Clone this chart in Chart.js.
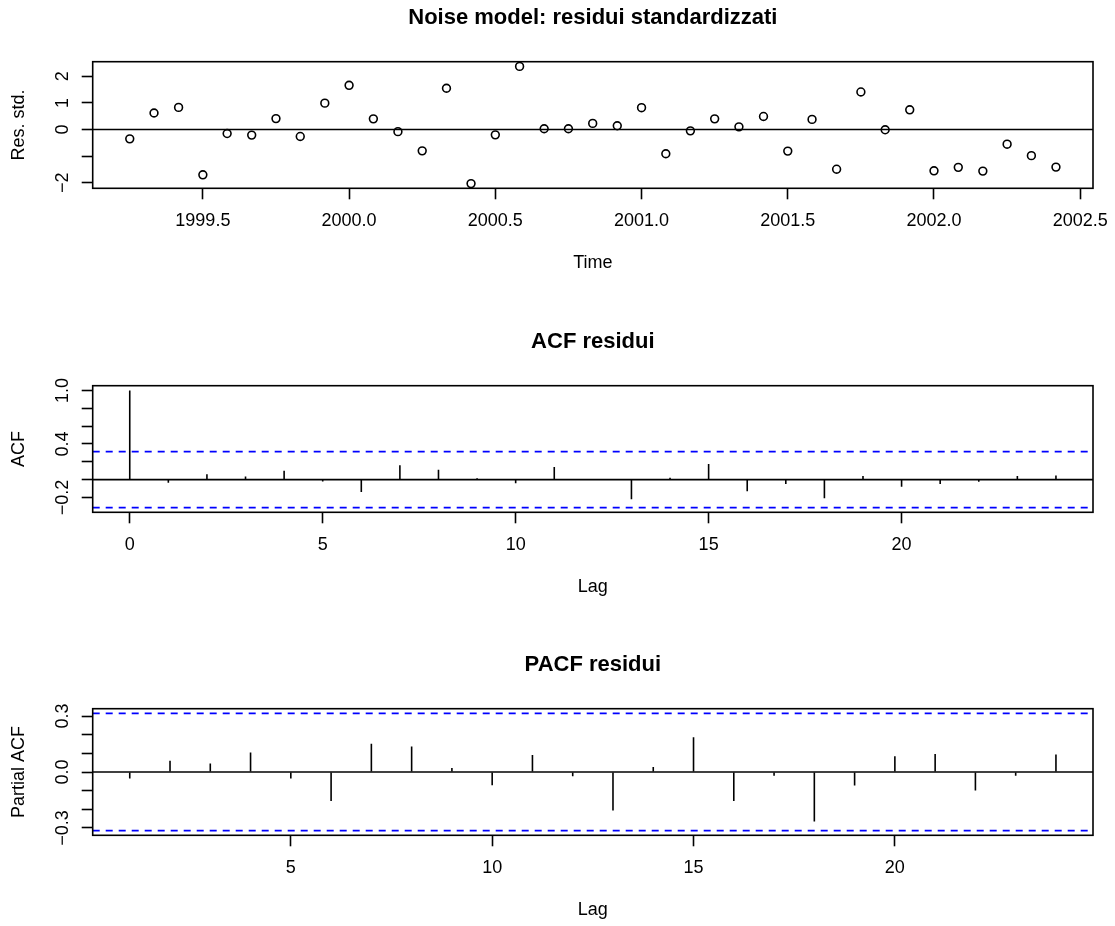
<!DOCTYPE html>
<html>
<head>
<meta charset="utf-8">
<title>Noise model: residui standardizzati</title>
<script src="https://cdn.jsdelivr.net/npm/chart.js@4.4.1/dist/chart.umd.min.js"></script>
<style>
    body { margin: 0; background: #ffffff; }
    #plots { position: relative; width: 1115px; height: 926px; }
    #plots canvas { position: absolute; left: 0; }
</style>
</head>
<body>
<div id="plots">
    <canvas id="residualChart" width="1115" height="324" style="top:0px"></canvas>
    <canvas id="acfChart" width="1115" height="324" style="top:324px"></canvas>
    <canvas id="pacfChart" width="1115" height="279" style="top:647px"></canvas>
</div>
<script>
// standardized residuals, monthly from 1999 (Apr) to 2002 (Jun)
const residualTimes = [
    1999.250, 1999.333, 1999.417, 1999.500, 1999.583, 1999.667, 1999.750, 1999.833, 1999.917,
    2000.000, 2000.083, 2000.167, 2000.250, 2000.333, 2000.417, 2000.500, 2000.583, 2000.667, 2000.750, 2000.833, 2000.917,
    2001.000, 2001.083, 2001.167, 2001.250, 2001.333, 2001.417, 2001.500, 2001.583, 2001.667, 2001.750, 2001.833, 2001.917,
    2002.000, 2002.083, 2002.167, 2002.250, 2002.333, 2002.417
];
const residualValues = [
    -0.35, 0.62, 0.83, -1.70, -0.15, -0.21, 0.41, -0.26, 0.99,
    1.66, 0.40, -0.08, -0.80, 1.55, -2.03, -0.20, 2.37, 0.03, 0.03, 0.23, 0.14,
    0.82, -0.91, -0.05, 0.40, 0.10, 0.49, -0.81, 0.38, -1.49, 1.41, -0.01, 0.74,
    -1.55, -1.42, -1.56, -0.55, -0.98, -1.41
];
const timeTicks = [1999.5, 2000.0, 2000.5, 2001.0, 2001.5, 2002.0, 2002.5];
const timeTickLabels = ['1999.5', '2000.0', '2000.5', '2001.0', '2001.5', '2002.0', '2002.5'];
const residualTicks = [-2, -1, 0, 1, 2];
const residualTickLabels = ['\u22122', '', '0', '1', '2'];

const acfLags = [0, 1, 2, 3, 4, 5, 6, 7, 8, 9, 10, 11, 12, 13, 14, 15, 16, 17, 18, 19, 20, 21, 22, 23, 24];
const acfValues = [
    1.0, -0.035, 0.06, 0.035, 0.10, -0.02, -0.14, 0.16, 0.11, 0.015, -0.04, 0.14, -0.005,
    -0.22, 0.02, 0.175, -0.13, -0.05, -0.21, 0.04, -0.08, -0.05, -0.025, 0.04, 0.045
];
const acfTicks = [-0.2, 0.0, 0.2, 0.4, 0.6, 0.8, 1.0];
const acfTickLabels = ['\u22120.2', '', '', '0.4', '', '', '1.0'];
const acfLagTicks = [0, 5, 10, 15, 20];

const pacfLags = [1, 2, 3, 4, 5, 6, 7, 8, 9, 10, 11, 12, 13, 14, 15, 16, 17, 18, 19, 20, 21, 22, 23, 24];
const pacfValues = [
    -0.035, 0.06, 0.045, 0.105, -0.035, -0.155, 0.152, 0.136, 0.021, -0.071, 0.091, -0.023,
    -0.206, 0.027, 0.186, -0.155, -0.02, -0.265, -0.072, 0.085, 0.097, -0.099, -0.02, 0.094
];
const pacfTicks = [-0.3, -0.2, -0.1, 0.0, 0.1, 0.2, 0.3];
const pacfTickLabels = ['\u22120.3', '', '', '0.0', '', '', '0.3'];
const pacfLagTicks = [5, 10, 15, 20];

// 95% band drawn by acf()/pacf()
const confidenceBound = 0.314;

const FONT = "'Liberation Sans', Arial, Helvetica, sans-serif";
const LINE = 1.6;

function measureText(text, size) {
    const ctx = document.createElement('canvas').getContext('2d');
    ctx.font = size + 'px ' + FONT;
    return ctx.measureText(text).width;
}

// R style axis range: data range widened by 4%
function paddedRange(values) {
    const lo = Math.min(...values);
    const hi = Math.max(...values);
    const pad = (hi - lo) * 0.04;
    return [lo - pad, hi + pad];
}

const framePlugin = {
    id: 'frame',
    afterDatasetsDraw(chart, args, opts) {
        const ctx = chart.ctx;
        const area = chart.chartArea;
        const y = chart.scales.y;
        ctx.save();
        ctx.lineWidth = LINE;
        (opts.lines || []).forEach(line => {
            const py = y.getPixelForValue(line.value);
            ctx.beginPath();
            ctx.setLineDash(line.dash || []);
            ctx.strokeStyle = line.color;
            ctx.moveTo(area.left, py);
            ctx.lineTo(area.right, py);
            ctx.stroke();
        });
        ctx.setLineDash([]);
        ctx.strokeStyle = '#000000';
        ctx.strokeRect(area.left, area.top, area.right - area.left, area.bottom - area.top);
        ctx.restore();
    }
};

function xAxis(range, ticks, labels, title) {
    return {
        type: 'linear',
        min: range[0],
        max: range[1],
        offset: false,
        afterBuildTicks: scale => { scale.ticks = ticks.map(v => ({ value: v })); },
        afterFit: scale => {
            scale.height = 86;
            scale.paddingLeft = 0;
            scale.paddingRight = 0;
        },
        ticks: {
            autoSkip: false,
            minRotation: 0,
            maxRotation: 0,
            padding: 11.4,
            color: '#000000',
            font: { family: FONT, size: 18 },
            callback: (value, index) => labels[index]
        },
        grid: { drawOnChartArea: false, drawTicks: true, tickLength: 11, tickWidth: LINE, tickColor: '#000000', offset: false },
        border: { display: false },
        title: { display: true, text: title, color: '#000000', font: { family: FONT, size: 18 }, padding: { top: 0, bottom: 0 } }
    };
}

function yAxis(range, ticks, labels, title) {
    const widest = Math.max(...labels.map(t => measureText(t, 18)));
    return {
        type: 'linear',
        min: range[0],
        max: range[1],
        afterBuildTicks: scale => { scale.ticks = ticks.map(v => ({ value: v })); },
        afterFit: scale => {
            scale.width = 92.7;
            scale.paddingTop = 0;
            scale.paddingBottom = 0;
        },
        ticks: {
            autoSkip: false,
            minRotation: 90,
            maxRotation: 90,
            crossAlign: 'center',
            padding: 18.7 - widest / 2,
            color: '#000000',
            font: { family: FONT, size: 18 },
            callback: (value, index) => labels[index]
        },
        grid: { drawOnChartArea: false, drawTicks: true, tickLength: 11, tickWidth: LINE, tickColor: '#000000' },
        border: { display: false },
        title: { display: true, text: title, color: '#000000', font: { family: FONT, size: 18 }, padding: { top: 8.7, bottom: 0 } }
    };
}

function baseOptions(title, bottomPad, lines, scales) {
    return {
        responsive: false,
        animation: false,
        devicePixelRatio: 1,
        layout: { padding: { left: 0, right: 22, top: 0, bottom: bottomPad } },
        plugins: {
            legend: { display: false },
            tooltip: { enabled: false },
            title: {
                display: true,
                text: title,
                fullSize: false,
                color: '#000000',
                font: { family: FONT, size: 22, weight: 'bold' },
                padding: { top: 4.8, bottom: 30.5 }
            },
            frame: { lines: lines }
        },
        scales: scales
    };
}

function drawResidualChart() {
    const xRange = paddedRange(residualTimes);
    const yRange = paddedRange(residualValues);
    new Chart(document.getElementById('residualChart'), {
        type: 'scatter',
        data: {
            datasets: [{
                data: residualTimes.map((t, i) => ({ x: t, y: residualValues[i] })),
                pointStyle: 'circle',
                pointRadius: 3.9,
                pointBorderWidth: LINE,
                borderColor: '#000000',
                backgroundColor: 'rgba(0,0,0,0)'
            }]
        },
        options: baseOptions('Noise model: residui standardizzati', 49.7,
            [{ value: 0, color: '#000000' }],
            {
                x: xAxis(xRange, timeTicks, timeTickLabels, 'Time'),
                y: yAxis(yRange, residualTicks, residualTickLabels, 'Res. std.')
            }),
        plugins: [framePlugin]
    });
}

function drawSpikeChart(canvasId, title, lags, values, yValues, yTicks, yLabels, xTicks, yTitle, bottomPad) {
    const xRange = paddedRange(lags);
    const yRange = paddedRange(yValues);
    new Chart(document.getElementById(canvasId), {
        type: 'bar',
        data: {
            datasets: [{
                data: lags.map((lag, i) => ({ x: lag, y: values[i] })),
                backgroundColor: '#000000',
                borderWidth: 0,
                barThickness: LINE,
                inflateAmount: 0
            }]
        },
        options: baseOptions(title, bottomPad,
            [
                { value: 0, color: '#000000' },
                { value: confidenceBound, color: '#0000ff', dash: [7, 6] },
                { value: -confidenceBound, color: '#0000ff', dash: [7, 6] }
            ],
            {
                x: xAxis(xRange, xTicks, xTicks.map(String), 'Lag'),
                y: yAxis(yRange, yTicks, yLabels, yTitle)
            }),
        plugins: [framePlugin]
    });
}

document.addEventListener('DOMContentLoaded', function() {
    drawResidualChart();
    drawSpikeChart('acfChart', 'ACF residui', acfLags, acfValues,
        [-confidenceBound, 1.0], acfTicks, acfTickLabels, acfLagTicks, 'ACF', 49.7);
    drawSpikeChart('pacfChart', 'PACF residui', pacfLags, pacfValues,
        [-confidenceBound, confidenceBound].concat(pacfValues), pacfTicks, pacfTickLabels, pacfLagTicks, 'Partial ACF', 4.7);
});
</script>
</body>
</html>
